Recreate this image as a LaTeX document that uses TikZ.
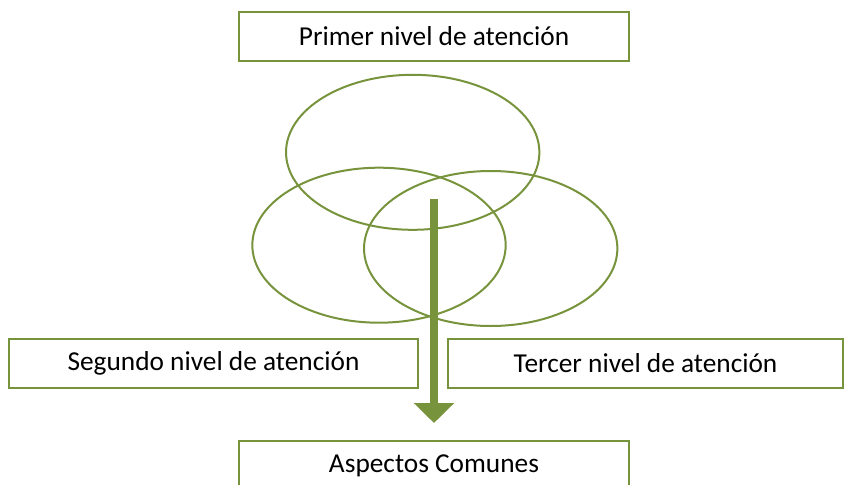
\documentclass[tikz,border=0pt]{standalone}
\usepackage{fontspec}
\setmainfont{Carlito}
\usetikzlibrary{shapes.geometric,arrows.meta}
\definecolor{olive}{HTML}{77933C}
\begin{document}
\begin{tikzpicture}[x=0.75pt,y=-0.75pt,
  box/.style={draw=olive,line width=1.5pt,fill=white,inner sep=0pt,
    minimum height=36.5pt,font=\fontsize{20.5}{24}\selectfont},
  ring/.style={draw=olive,line width=1.5pt,shape=ellipse,inner sep=0pt,
    minimum width=190pt,minimum height=116.25pt}]
\useasboundingbox (0,0) rectangle (846,485);
\clip (0,0) rectangle (846,485);
\node[ring] (e1) at (412.7,152.3) {};
\node[ring] (e2) at (379,245.2) {};
\node[ring] (e3) at (490.7,248.5) {};
\node[box,minimum width=292.5pt] (p1) at (434,36.5) {Primer nivel de atención};
\node[box,minimum width=306.75pt] (p2) at (213.5,363.5) {Segundo nivel de atención};
\node[box,minimum width=296.25pt] (p3) at (645.5,363.5) {Tercer nivel de atención};
\node[box,minimum width=292.5pt] (p4) at (434,465.5) {Aspectos Comunes};
\coordinate (s) at (434,199);
\coordinate (t) at (434,423);
\draw[olive,line width=6pt,-{Triangle[width=29.5pt,length=15pt]}] (s) -- (t);
\end{tikzpicture}
\end{document}
